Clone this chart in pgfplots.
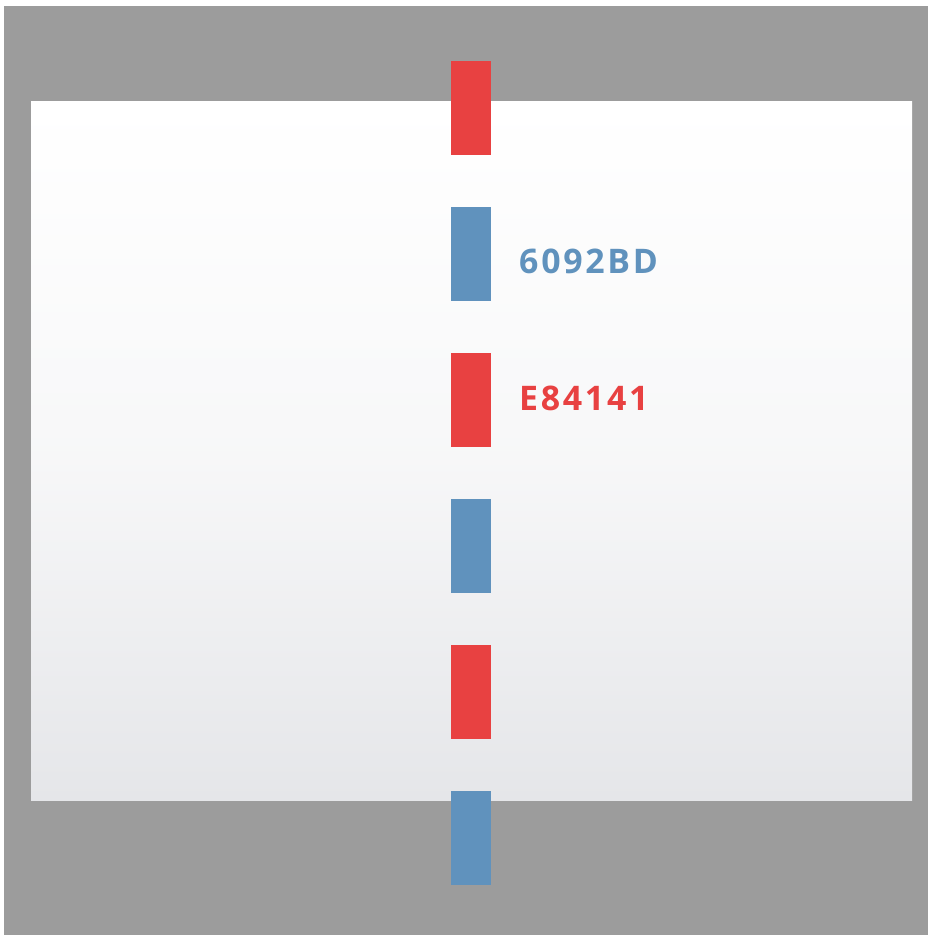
\documentclass[border=0pt]{standalone}
\usepackage{pgfplots}
\pgfplotsset{compat=1.18}
\usepackage{fontspec}
\setmainfont{Open Sans}
\definecolor{cred}{HTML}{E84141}
\definecolor{cblue}{HTML}{6092BD}
\definecolor{bggray}{HTML}{9C9C9C}
\definecolor{panelbot}{HTML}{E5E6E9}
\begin{document}
\begin{tikzpicture}
\begin{axis}[
  scale only axis,
  width=924bp, height=929bp,
  xmin=4, xmax=928, ymin=6, ymax=935,
  y dir=reverse,
  hide axis,
  clip=false,
]
% page and background
\fill[white] (axis cs:0,0) rectangle (axis cs:928,935);
\fill[bggray] (axis cs:4,6) rectangle (axis cs:928,935);
\shade[top color=white, bottom color=panelbot, middle color=white!70!panelbot] (axis cs:31,102) rectangle (axis cs:912,800);
% red segments
\addplot[fill=cred, draw=none] coordinates {(451,61)(491,61)(491,155)(451,155)} -- cycle;
\addplot[fill=cred, draw=none] coordinates {(451,353)(491,353)(491,447)(451,447)} -- cycle;
\addplot[fill=cred, draw=none] coordinates {(451,645)(491,645)(491,739)(451,739)} -- cycle;
% blue segments
\addplot[fill=cblue, draw=none] coordinates {(451,207)(491,207)(491,301)(451,301)} -- cycle;
\addplot[fill=cblue, draw=none] coordinates {(451,499)(491,499)(491,593)(451,593)} -- cycle;
\addplot[fill=cblue, draw=none] coordinates {(451,791)(491,791)(491,885)(451,885)} -- cycle;
% labels
\node[anchor=west, inner sep=0pt, text=cblue, font=\fontsize{34}{40}\selectfont\bfseries\addfontfeatures{LetterSpace=8}] at (axis cs:519,261) {6092BD};
\node[anchor=west, inner sep=0pt, text=cred, font=\fontsize{34}{40}\selectfont\bfseries\addfontfeatures{LetterSpace=8}] at (axis cs:519,398) {E84141};
\end{axis}
\end{tikzpicture}
\end{document}
